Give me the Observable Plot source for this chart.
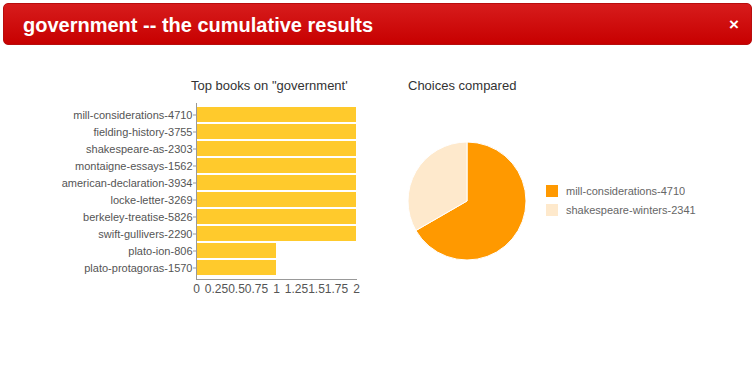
<!DOCTYPE html>
<html>
<head>
<meta charset="utf-8">
<script src="https://cdn.jsdelivr.net/npm/d3@7"></script>
<script src="https://cdn.jsdelivr.net/npm/@observablehq/plot@0.6"></script>
<style>
  html, body { margin: 0; padding: 0; background: #fff; width: 755px; height: 373px; overflow: hidden; font-family: "Liberation Sans", Arial, sans-serif; }
  .header { position: absolute; left: 3px; top: 3px; width: 747px; height: 40px; border-radius: 5px;
    background: linear-gradient(#d71c1c, #c70000); border: 1px solid #b80d0d; }
  .header .t { position: absolute; left: 19px; top: 9px; color: #fff; font: bold 20px "Liberation Sans", Arial, sans-serif; line-height: 24px; }
  .header .x { position: absolute; right: 12px; top: 12px; color: #fff; font: bold 17px "Liberation Sans", Arial, sans-serif; line-height: 18px; }
  .ttl { position: absolute; font: 13px "Liberation Sans", Arial, sans-serif; color: #333; white-space: nowrap; }
  #bars { position: absolute; left: 0; top: 95px; }
  #pie { position: absolute; left: 387px; top: 121px; }
  #legend { position: absolute; left: 546px; top: 185px; }
  #legend [class$="-swatch"] { padding-bottom: 7px !important; }
  #legend [class$="-swatch"] svg { margin-right: 8px !important; }
</style>
</head>
<body>
<div class="header"><div class="t" id="title"></div><div class="x">×</div></div>
<div class="ttl" id="barTitle" style="left:191px; top:78px;"></div>
<div class="ttl" id="pieTitle" style="left:408px; top:78px;"></div>
<div id="bars"></div>
<div id="pie"></div>
<div id="legend"></div>
<script>
const headerTitle = "government -- the cumulative results";
const barChartTitle = "Top books on \"government'";
const pieChartTitle = "Choices compared";
const books = ["mill-considerations-4710","fielding-history-3755","shakespeare-as-2303","montaigne-essays-1562","american-declaration-3934","locke-letter-3269","berkeley-treatise-5826","swift-gullivers-2290","plato-ion-806","plato-protagoras-1570"];
const counts = [2,2,2,2,2,2,2,2,1,1];
const xTicks = [0,0.25,0.5,0.75,1,1.25,1.5,1.75,2];
const choices = ["mill-considerations-4710","shakespeare-winters-2341"];
const choiceValues = [2,1];
const choiceColors = ["#ff9900","#fee9cc"];
const barColor = "#ffca2c";

document.getElementById("title").textContent = headerTitle;
document.getElementById("barTitle").textContent = barChartTitle;
document.getElementById("pieTitle").textContent = pieChartTitle;

const barData = books.map((b, i) => ({book: b, count: counts[i]}));

const bars = Plot.plot({
  width: 370,
  height: 205,
  marginLeft: 196,
  marginRight: 14,
  marginTop: 8,
  marginBottom: 21,
  style: {fontFamily: "'Liberation Sans', Arial, sans-serif", fontSize: "11px", color: "#555", background: "transparent"},
  x: {domain: [0, 2], ticks: xTicks, tickFormat: d => String(d), label: null},
  y: {domain: books, padding: 0.1, label: null},
  marks: [
    Plot.barX(barData, {y: "book", x: "count", fill: barColor, insetLeft: 1}),
    Plot.axisY({tickSize: 3, tickPadding: 1, stroke: "#999", fontSize: 11, color: "#555"}),
    Plot.axisX({tickSize: 0, tickPadding: 5, ticks: xTicks, tickFormat: d => String(d), fontSize: 12, fill: "#555"}),
    Plot.ruleX([0], {stroke: "#999"}),
    Plot.frame({anchor: "bottom", stroke: "#999"})
  ]
});
document.getElementById("bars").appendChild(bars);

const colorScale = Plot.scale({color: {type: "ordinal", domain: choices, range: choiceColors}});
const pieData = choices.map((c, i) => ({name: c, value: choiceValues[i]}));

const pie = Plot.plot({
  width: 160,
  height: 160,
  margin: 0,
  style: {background: "transparent"},
  marks: [
    (index, scales, values, dimensions) => {
      const g = d3.create("svg:g").attr("transform", `translate(${dimensions.width / 2},${dimensions.height / 2})`);
      const arcs = d3.pie().sort(null).value(d => d.value)(pieData);
      const arc = d3.arc().innerRadius(0).outerRadius(59);
      g.selectAll("path").data(arcs).join("path")
        .attr("d", arc)
        .attr("fill", d => colorScale.apply(d.data.name))
        .attr("stroke", "#fff")
        .attr("stroke-width", 1);
      return g.node();
    }
  ]
});
document.getElementById("pie").appendChild(pie);

const legend = Plot.legend({
  color: {type: "ordinal", domain: choices, range: choiceColors},
  swatchSize: 12,
  columns: 1,
  style: {fontFamily: "'Liberation Sans', Arial, sans-serif", fontSize: "11px", color: "#666"}
});
document.getElementById("legend").appendChild(legend);
</script>
</body>
</html>
